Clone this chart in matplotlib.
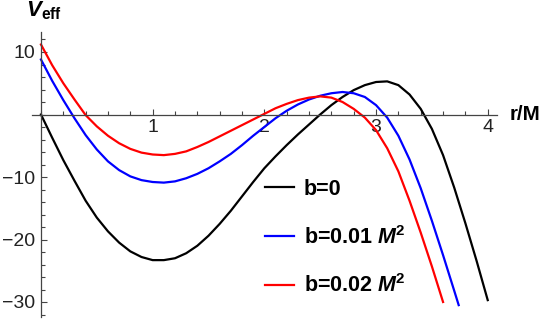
import matplotlib
matplotlib.use("Agg")
import matplotlib.pyplot as plt
from matplotlib.ticker import MultipleLocator, FixedLocator

plt.rcParams['font.family'] = ['Liberation Sans', 'DejaVu Sans']
plt.rcParams['mathtext.fontset'] = 'custom'
plt.rcParams['mathtext.rm'] = 'Liberation Sans'
plt.rcParams['mathtext.it'] = 'Liberation Sans:italic'
plt.rcParams['mathtext.bf'] = 'Liberation Sans:bold'
plt.rcParams['mathtext.bfit'] = 'Liberation Sans:bold:italic'
plt.rcParams['mathtext.default'] = 'regular'

# valores (r/M, V_eff)
r_b0 = [0.0, 0.1, 0.2, 0.3, 0.4, 0.5, 0.6, 0.7, 0.8, 0.9, 1.0, 1.1, 1.2, 1.3,
        1.4, 1.5, 1.6, 1.7, 1.8, 1.9, 2.0, 2.1, 2.2, 2.3, 2.4, 2.5, 2.6, 2.7,
        2.8, 2.9, 3.0, 3.1, 3.2, 3.3, 3.4, 3.5, 3.6, 3.7, 3.8, 3.9, 4.0]
v_b0 = [0.0, -3.7, -7.3, -10.6, -13.8, -16.5, -18.7, -20.5, -21.9, -22.8,
        -23.3, -23.3, -23.0, -22.2, -21.0, -19.4, -17.5, -15.4, -13.1, -10.8,
        -8.6, -6.7, -4.9, -3.2, -1.6, 0.0, 1.5, 2.8, 3.9, 4.7, 5.2, 5.3, 4.7,
        3.2, 0.9, -2.3, -6.5, -11.7, -17.4, -23.4, -29.7]

r_b1 = [0.0, 0.1, 0.2, 0.3, 0.4, 0.5, 0.6, 0.7, 0.8, 0.9, 1.0, 1.1, 1.2, 1.3,
        1.4, 1.5, 1.6, 1.7, 1.8, 1.9, 2.0, 2.1, 2.2, 2.3, 2.4, 2.5, 2.6, 2.7,
        2.8, 2.9, 3.0, 3.1, 3.2, 3.3, 3.4, 3.5, 3.6, 3.7, 3.74]
v_b1 = [8.8, 5.4, 2.3, -0.6, -3.3, -5.6, -7.5, -8.9, -9.9, -10.5, -10.8,
        -10.9, -10.7, -10.2, -9.5, -8.6, -7.5, -6.3, -4.9, -3.4, -2.0, -0.6,
        0.6, 1.6, 2.4, 3.0, 3.4, 3.6, 3.4, 2.8, 1.5, -0.5, -3.4, -7.2, -11.8,
        -17.0, -22.5, -28.2, -30.5]

r_b2 = [0.0, 0.1, 0.2, 0.3, 0.4, 0.5, 0.6, 0.7, 0.8, 0.9, 1.0, 1.1, 1.2, 1.3,
        1.4, 1.5, 1.6, 1.7, 1.8, 1.9, 2.0, 2.1, 2.2, 2.3, 2.4, 2.5, 2.6, 2.7,
        2.8, 2.9, 3.0, 3.1, 3.2, 3.3, 3.4, 3.5, 3.6]
v_b2 = [11.2, 7.9, 5.0, 2.4, -0.1, -1.9, -3.4, -4.6, -5.5, -6.1, -6.4, -6.5,
        -6.3, -5.9, -5.2, -4.4, -3.5, -2.6, -1.7, -0.8, 0.1, 1.0, 1.7, 2.3,
        2.7, 2.9, 2.7, 2.0, 0.9, -0.5, -2.5, -5.4, -9.1, -13.8, -18.9, -24.3,
        -30.0]

etiquetas = ['b=0', r'b=0.01 $\mathbfit{M}^2$', r'b=0.02 $\mathbfit{M}^2$']
colores = ['black', '#0000ff', '#ff0000']

W, H = 540, 320
fig = plt.figure(figsize=(W / 100, H / 100), dpi=100)
ax = fig.add_axes([31.7 / W, 3 / H, (497 - 31.7) / W, (317 - 32) / H])

for r, v, lab, c in zip([r_b0, r_b1, r_b2], [v_b0, v_b1, v_b2], etiquetas, colores):
    ax.plot(r, v, color=c, lw=1.6, label=lab, solid_joinstyle='round')

ax.set_xlim(-0.083, 4.083)
ax.set_ylim(-32.4, 13.2)

# ejes estilo Mathematica cruzando en el origen
for s in ['top', 'right']:
    ax.spines[s].set_visible(False)
ax.spines['left'].set_position(('data', 0))
ax.spines['bottom'].set_position(('data', 0))
for s in ['left', 'bottom']:
    ax.spines[s].set_color('#444444')
    ax.spines[s].set_linewidth(0.9)

ax.xaxis.set_major_locator(FixedLocator([1, 2, 3, 4]))
ax.xaxis.set_minor_locator(MultipleLocator(0.2))
ax.yaxis.set_major_locator(FixedLocator([-30, -20, -10, 10]))
ax.yaxis.set_minor_locator(MultipleLocator(2))
ax.tick_params(which='both', direction='in', color='#444444', width=0.8,
               labelsize=14, labelcolor='#222222')
ax.tick_params(which='major', length=4.5)
ax.tick_params(which='minor', length=2.6)
ax.tick_params(axis='x', pad=3)
ax.tick_params(axis='y', pad=4)
ax.set_yticklabels(['\u221230', '\u221220', '\u221210', '10'])
ax.patch.set_alpha(0)

fig.text(510 / W, 1 - 114 / H, 'r/M', fontsize=14.8, fontweight='bold',
         ha='left', va='center')
fig.text(26 / W, 1 - 11 / H, r'$\mathbfit{V}_{\mathbf{eff}}$', fontsize=16,
         ha='left', va='center')

ax.legend(loc='upper left', bbox_to_anchor=(265 / W, 1 - 179 / H),
          bbox_transform=fig.transFigure, frameon=False, borderpad=0,
          borderaxespad=0, handlelength=1.35, handletextpad=0.45,
          labelspacing=1.2, prop={'weight': 'bold', 'size': 15.5})

fig.savefig('out.png', dpi=100)
